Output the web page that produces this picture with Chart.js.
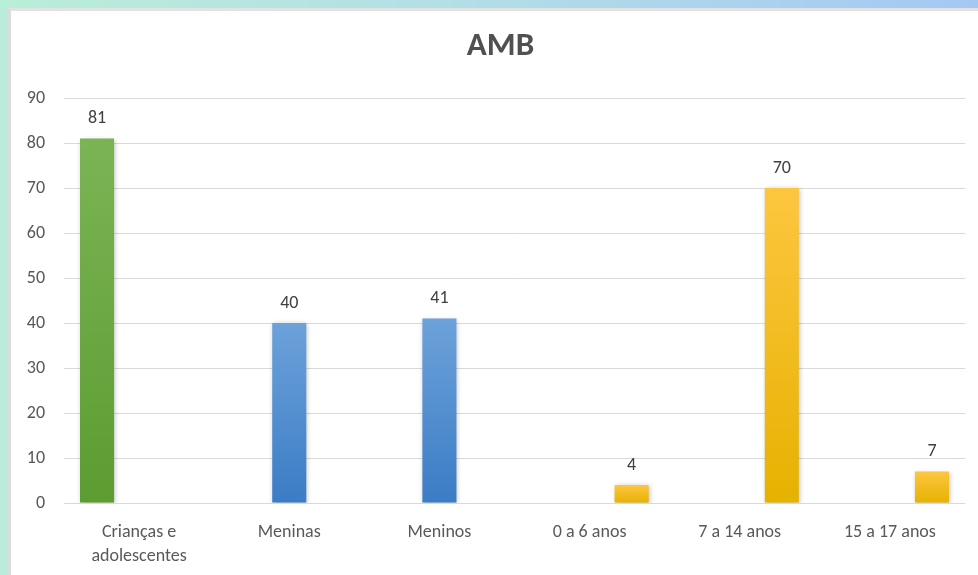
<!DOCTYPE html>
<html>
<head>
<meta charset="utf-8">
<script src="https://cdn.jsdelivr.net/npm/chart.js@4.4.1/dist/chart.umd.min.js"></script>
<style>
  html, body { margin: 0; padding: 0; }
  body {
    width: 978px; height: 575px; overflow: hidden; position: relative;
    background: #b9ecd9;
  }
  .topband {
    position: absolute; left: 0; top: 0; width: 978px; height: 9px;
    background: linear-gradient(90deg, #b9eed8 0%, #b3dfe6 45%, #a4c8f4 100%);
  }
  .panel {
    position: absolute; left: 8px; top: 8px; width: 970px; height: 567px;
    background: #ffffff;
    border-left: 3px solid #dcdcdc; border-top: 3px solid #e2e2e2;
    box-sizing: border-box;
  }
  canvas { position: absolute; left: 0; top: 0; }
</style>
</head>
<body>
<div class="topband"></div>
<div class="panel"><canvas id="chart" width="967" height="564"></canvas></div>
<script>
// Atendimentos AMB por grupo
const chartTitle = 'AMB';
const categories = [["Crianças e", "adolescentes"], "Meninas", "Meninos", "0 a 6 anos", "7 a 14 anos", "15 a 17 anos"];
const totalValues = [81, null, null, null, null, null];
const sexValues   = [null, 40, 41, null, null, null];
const ageValues   = [null, null, null, 4, 70, 7];
const yTicks = [0, 10, 20, 30, 40, 50, 60, 70, 80, 90];

const FONT = "Carlito, Lato, 'Open Sans', sans-serif";

// vertical gradient spanning each bar, lighter at the top
function barGradient(top, bottom) {
  return function (ctx) {
    const chart = ctx.chart;
    if (!chart.chartArea || ctx.type !== 'data') return bottom;
    const v = ctx.dataset.data[ctx.dataIndex];
    if (v == null) return bottom;
    const y = chart.scales.y;
    const g = chart.ctx.createLinearGradient(0, y.getPixelForValue(v), 0, y.getPixelForValue(0));
    g.addColorStop(0, top);
    g.addColorStop(1, bottom);
    return g;
  };
}

// soft shadow under the bars
const barShadow = {
  id: 'barShadow',
  beforeDatasetsDraw(chart) {
    const c = chart.ctx;
    c.save();
    c.shadowColor = 'rgba(0,0,0,0.28)';
    c.shadowBlur = 5;
    c.shadowOffsetX = 1;
    c.shadowOffsetY = 1;
  },
  afterDatasetsDraw(chart) { chart.ctx.restore(); }
};

// value printed above each bar
const valueLabels = {
  id: 'valueLabels',
  afterDatasetsDraw(chart) {
    const c = chart.ctx;
    c.save();
    c.font = "18px " + FONT;
    c.fillStyle = '#404040';
    c.textAlign = 'center';
    c.textBaseline = 'middle';
    chart.data.datasets.forEach((ds, di) => {
      const meta = chart.getDatasetMeta(di);
      meta.data.forEach((bar, i) => {
        const v = ds.data[i];
        if (v == null) return;
        c.fillText(String(v), bar.x, bar.y - 20);
      });
    });
    c.restore();
  }
};

// chart heading, centred over the panel
const heading = {
  id: 'heading',
  afterDraw(chart) {
    const c = chart.ctx;
    c.save();
    c.font = "bold 33px " + FONT;
    c.fillStyle = '#505050';
    c.textAlign = 'center';
    c.textBaseline = 'middle';
    c.fillText(chartTitle, chart.width / 2 + 6, 36);
    c.restore();
  }
};

new Chart(document.getElementById('chart'), {
  type: 'bar',
  data: {
    labels: categories,
    datasets: [
      { label: 'Total', data: totalValues, backgroundColor: barGradient('#7bb455', '#5c9c31') },
      { label: 'Sexo', data: sexValues, backgroundColor: barGradient('#6da2da', '#3b7cc5') },
      { label: 'Idade', data: ageValues, backgroundColor: barGradient('#fdc640', '#e6b200') }
    ]
  },
  plugins: [barShadow, valueLabels, heading],
  options: {
    responsive: false,
    animation: false,
    events: [],
    categoryPercentage: 0.84,
    barPercentage: 0.81,
    layout: { padding: { left: 0, right: 13, top: 87, bottom: 0 } },
    plugins: {
      legend: { display: false },
      tooltip: { enabled: false },
      title: { display: false }
    },
    scales: {
      x: {
        grid: { display: false, drawTicks: false },
        border: { display: false },
        ticks: {
          color: '#595959',
          font: { family: FONT, size: 18, lineHeight: 1.3 },
          padding: 18,
          maxRotation: 0,
          autoSkip: false
        },
        afterFit(scale) { scale.height = 72; }
      },
      y: {
        min: 0,
        max: 90,
        afterBuildTicks(scale) { scale.ticks = yTicks.map(v => ({ value: v })); },
        grid: { color: '#d9d9d9', lineWidth: 1, drawTicks: false },
        border: { display: false },
        ticks: {
          color: '#595959',
          font: { family: FONT, size: 18 },
          padding: 19
        },
        afterFit(scale) { scale.width = 53; }
      }
    }
  }
});
</script>
</body>
</html>
